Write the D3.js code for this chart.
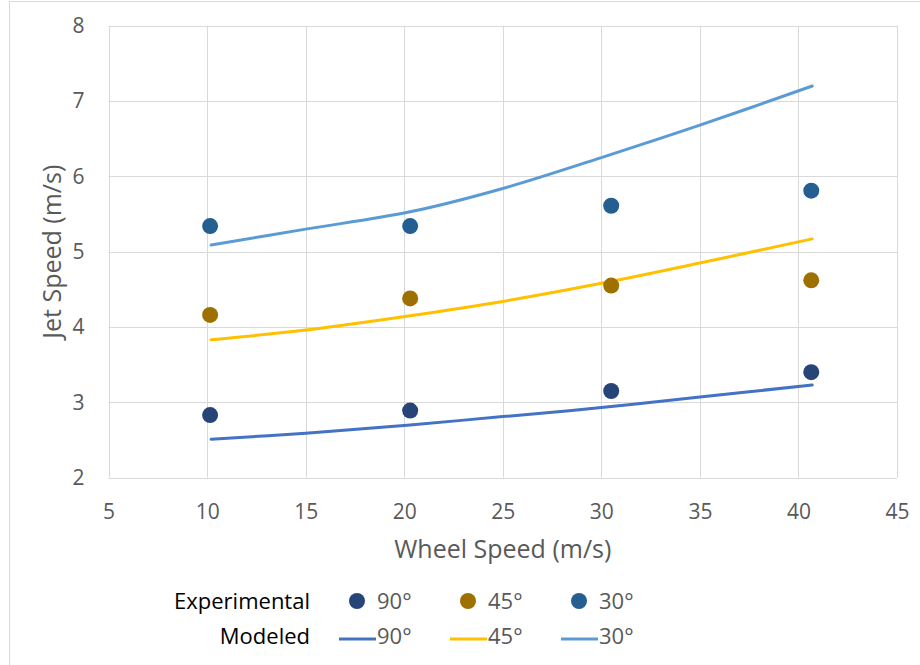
<!DOCTYPE html>
<html>
<head>
<meta charset="utf-8">
<script src="https://cdn.jsdelivr.net/npm/d3@7"></script>
<style>
  html, body { margin: 0; padding: 0; background: #fff; }
  svg { display: block; font-family: "Open Sans", "Noto Sans", sans-serif; }
</style>
</head>
<body>
<svg id="chart" width="920" height="665"></svg>
<script>
// Wheel speed (m/s) at which jets were measured
const expWheel = [10.15, 20.3, 30.5, 40.65];
// Measured jet speed (m/s) per nozzle angle
const exp90 = [2.83, 2.89, 3.15, 3.40];
const exp45 = [4.16, 4.38, 4.55, 4.62];
const exp30 = [5.34, 5.34, 5.61, 5.81];

// Model curve sample points
const modWheel = [10.2, 15, 20.3, 25, 30, 35, 40.7];
const mod90 = [2.51, 2.59, 2.70, 2.81, 2.93, 3.07, 3.23];
const mod45 = [3.83, 3.96, 4.15, 4.34, 4.58, 4.85, 5.17];
const mod30 = [5.09, 5.30, 5.53, 5.84, 6.25, 6.68, 7.20];

const angles = ["90°", "45°", "30°"];
const xTicks = [5, 10, 15, 20, 25, 30, 35, 40, 45];
const yTicks = [2, 3, 4, 5, 6, 7, 8];

const dotColors = ["#264478", "#9E7000", "#255E91"];
const lineColors = ["#4472C4", "#FFC000", "#5B9BD5"];

const svg = d3.select("#chart");
const plot = { left: 108.6, right: 897, top: 25.8, bottom: 477.6 };

const x = d3.scaleLinear().domain([5, 45]).range([plot.left, plot.right]);
const y = d3.scaleLinear().domain([2, 8]).range([plot.bottom, plot.top]);

// chart frame
svg.append("rect")
  .attr("x", 9.5).attr("y", 1.5)
  .attr("width", 940).attr("height", 700)
  .attr("fill", "none").attr("stroke", "#d9d9d9").attr("stroke-width", 1);

// gridlines
const grid = svg.append("g").attr("stroke", "#d9d9d9").attr("stroke-width", 1);
grid.selectAll("line.v").data(xTicks).join("line")
  .attr("x1", d => Math.round(x(d)) + 0.5).attr("x2", d => Math.round(x(d)) + 0.5)
  .attr("y1", plot.top).attr("y2", plot.bottom);
grid.selectAll("line.h").data(yTicks).join("line")
  .attr("y1", d => Math.round(y(d)) + 0.5).attr("y2", d => Math.round(y(d)) + 0.5)
  .attr("x1", plot.left).attr("x2", plot.right);

// axes (labels only)
const xAxis = svg.append("g")
  .attr("transform", `translate(0,${plot.bottom})`)
  .call(d3.axisBottom(x).tickValues(xTicks).tickFormat(d3.format("d")).tickSize(0).tickPadding(26));
const yAxis = svg.append("g")
  .attr("transform", `translate(${plot.left},0)`)
  .call(d3.axisLeft(y).tickValues(yTicks).tickFormat(d3.format("d")).tickSize(0).tickPadding(24));
[xAxis, yAxis].forEach(a => {
  a.select(".domain").remove();
  a.selectAll("text")
    .attr("fill", "#595959")
    .attr("font-size", 21)
    .attr("font-family", "'Open Sans', sans-serif");
});

// axis titles
svg.append("text")
  .attr("x", (plot.left + plot.right) / 2).attr("y", 558)
  .attr("text-anchor", "middle")
  .attr("fill", "#595959").attr("font-size", 25)
  .text("Wheel Speed (m/s)");
svg.append("text")
  .attr("transform", `translate(52,${(plot.top + plot.bottom) / 2}) rotate(-90)`)
  .attr("text-anchor", "middle").attr("dy", "0.35em")
  .attr("fill", "#595959").attr("font-size", 25)
  .text("Jet Speed (m/s)");

// modeled curves
const modSeries = [mod90, mod45, mod30];
const line = d3.line()
  .x((d, i) => x(modWheel[i]))
  .y(d => y(d))
  .curve(d3.curveCatmullRom.alpha(0.5));
svg.append("g").selectAll("path").data(modSeries).join("path")
  .attr("d", d => line(d))
  .attr("fill", "none")
  .attr("stroke", (d, i) => lineColors[i])
  .attr("stroke-width", 3)
  .attr("stroke-linecap", "round");

// experimental points
const expSeries = [exp90, exp45, exp30];
expSeries.forEach((s, k) => {
  svg.append("g").selectAll("circle").data(s).join("circle")
    .attr("cx", (d, i) => x(expWheel[i]))
    .attr("cy", d => y(d))
    .attr("r", 8)
    .attr("fill", dotColors[k]);
});

// legend
const legend = svg.append("g");
const rowY = [601, 636];
legend.append("text").attr("x", 310).attr("y", rowY[0]).attr("dy", "0.35em")
  .attr("text-anchor", "end").attr("fill", "#000").attr("font-size", 22)
  .text("Experimental");
legend.append("text").attr("x", 310).attr("y", rowY[1]).attr("dy", "0.35em")
  .attr("text-anchor", "end").attr("fill", "#000").attr("font-size", 22)
  .text("Modeled");
const colX = [339, 450, 561];
angles.forEach((a, i) => {
  legend.append("circle")
    .attr("cx", colX[i] + 18).attr("cy", rowY[0]).attr("r", 8)
    .attr("fill", dotColors[i]);
  legend.append("text")
    .attr("x", colX[i] + 38).attr("y", rowY[0]).attr("dy", "0.35em")
    .attr("fill", "#595959").attr("font-size", 22).text(a);
  legend.append("line")
    .attr("x1", colX[i]).attr("x2", colX[i] + 37)
    .attr("y1", rowY[1] + 3).attr("y2", rowY[1] + 3)
    .attr("stroke", lineColors[i]).attr("stroke-width", 3);
  legend.append("text")
    .attr("x", colX[i] + 38).attr("y", rowY[1]).attr("dy", "0.35em")
    .attr("fill", "#595959").attr("font-size", 22).text(a);
});
</script>
</body>
</html>
